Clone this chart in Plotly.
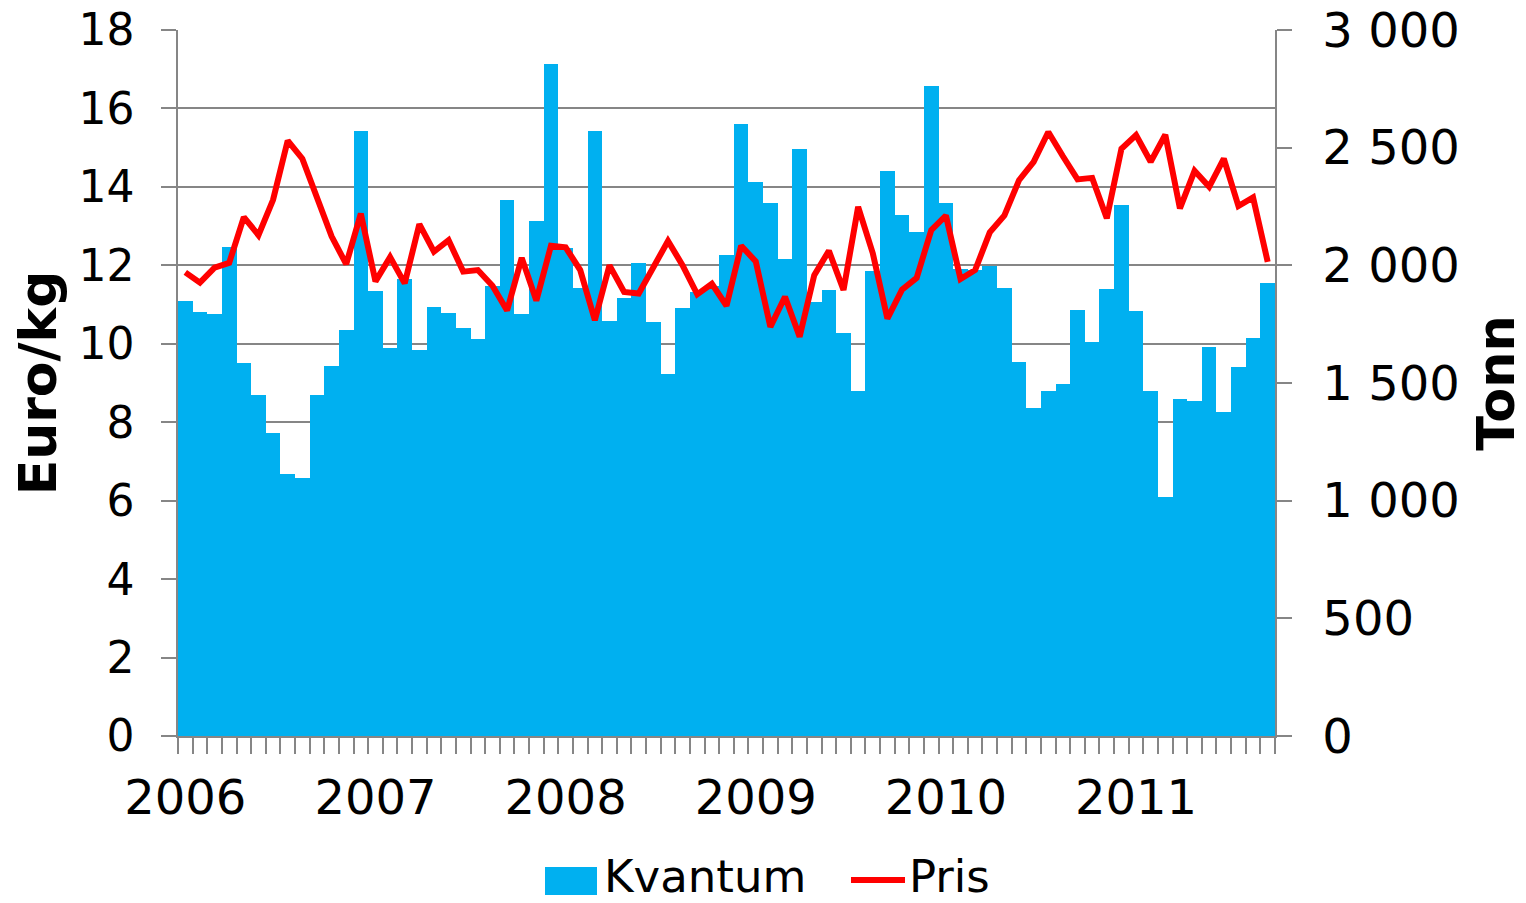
import plotly.graph_objects as go

# 4-week periods (13 per year), 2006 P1 .. 2011 P10
years = ["2006", "2007", "2008", "2009", "2010", "2011"]
periods_per_year = 13

kvantum = [1850, 1802, 1794, 2080, 1584, 1448, 1289, 1113, 1095, 1448, 1573, 1726, 2571,
           1891, 1650, 1944, 1639, 1825, 1796, 1734, 1689, 1911, 2276, 1792, 2190, 2854,
           2072, 1903, 2571, 1763, 1862, 2010, 1759, 1540, 1819, 1887, 1911, 2045, 2602,
           2353, 2266, 2025, 2495, 1845, 1895, 1713, 1466, 1975, 2402, 2213, 2140, 2763,
           2266, 1986, 1980, 1996, 1905, 1588, 1392, 1464, 1497, 1810, 1676, 1901, 2258,
           1808, 1464, 1017, 1431, 1425, 1654, 1377, 1567, 1693, 1926]

pris = [11.82, 11.56, 11.94, 12.06, 13.23, 12.77, 13.67, 15.18, 14.72, 13.73, 12.74, 12.03, 13.32,
        11.59, 12.21, 11.54, 13.05, 12.35, 12.64, 11.84, 11.88, 11.48, 10.85, 12.19, 11.10, 12.50,
        12.46, 11.88, 10.60, 12.00, 11.32, 11.28, 11.96, 12.62, 12.00, 11.26, 11.53, 10.97, 12.50,
        12.10, 10.43, 11.20, 10.18, 11.75, 12.37, 11.37, 13.49, 12.31, 10.64, 11.38, 11.68, 12.90,
        13.27, 11.65, 11.88, 12.84, 13.27, 14.17, 14.64, 15.40, 14.78, 14.19, 14.23, 13.20, 14.97,
        15.32, 14.64, 15.33, 13.45, 14.41, 14.00, 14.72, 13.51, 13.73, 12.09]

n = len(kvantum)
x = list(range(n))
year_ticks = [i * periods_per_year for i in range(len(years))]

BAR = "#00B0F0"
LINE = "#FF0000"
AX = "#868686"
FONT = "DejaVu Sans"

fig = go.Figure()
fig.add_trace(go.Bar(x=x, y=kvantum, name="Kvantum", marker=dict(color=BAR, line=dict(width=0)),
                     yaxis="y", showlegend=False))
fig.add_trace(go.Scatter(x=x, y=pris, name="Pris", mode="lines",
                         line=dict(color=LINE, width=6), yaxis="y2", showlegend=False))

W, H = 1526, 903
L, R, T, B = 178, 251, 30, 167
pw, ph = W - L - R, H - T - B

def px(xp):
    return (xp - L) / pw

def py(yp):
    return (H - B - yp) / ph

fig.update_layout(
    width=W, height=H,
    margin=dict(l=L, r=R, t=T, b=B, autoexpand=False),
    paper_bgcolor="white", plot_bgcolor="white",
    font=dict(family=FONT, color="black"),
    separators=", ",
    bargap=0,
    xaxis=dict(
        range=[-0.5, n - 0.5], tickmode="array", tickvals=year_ticks, ticktext=years,
        ticks="", showgrid=False, zeroline=False,
        showline=True, linecolor=AX, linewidth=1.5,
        tickfont=dict(size=48, family=FONT), ticklabelstandoff=19,
        minor=dict(tickmode="linear", tick0=-0.5, dtick=1, ticks="outside",
                   ticklen=16, tickcolor=AX, tickwidth=1.5, showgrid=False),
    ),
    yaxis=dict(
        range=[0, 3000], dtick=500, tickformat=",d", side="right",
        showgrid=False, zeroline=False, showline=True, linecolor=AX, linewidth=1.5,
        ticks="outside", ticklen=15, tickcolor=AX, tickwidth=1.5,
        tickfont=dict(size=48, family=FONT), ticklabelstandoff=21,
        title=dict(text="<b>Tonn</b>", font=dict(size=51, family=FONT), standoff=22),
    ),
    yaxis2=dict(
        range=[0, 18], dtick=2, side="left", overlaying="y",
        showgrid=True, gridcolor=AX, gridwidth=1.5, zeroline=False,
        showline=True, linecolor=AX, linewidth=1.5,
        ticks="outside", ticklen=15, tickcolor=AX, tickwidth=1.5,
        tickfont=dict(size=44, family=FONT), ticklabelstandoff=18,
        title=dict(text="<b>Euro/kg</b>", font=dict(size=52, family=FONT), standoff=5),
    ),
    shapes=[
        dict(type="rect", xref="paper", yref="paper", x0=px(545), x1=px(597), y0=py(895), y1=py(867),
             fillcolor=BAR, line=dict(width=0)),
        dict(type="line", xref="paper", yref="paper", x0=px(851), x1=px(905), y0=py(880), y1=py(880),
             line=dict(color=LINE, width=6)),
    ],
    annotations=[
        dict(text="Kvantum", xref="paper", yref="paper", x=px(603), y=py(876), xanchor="left",
             yanchor="middle", borderpad=0, showarrow=False,
             font=dict(size=45, family=FONT, color="black")),
        dict(text="Pris", xref="paper", yref="paper", x=px(908), y=py(876), xanchor="left",
             yanchor="middle", borderpad=0, showarrow=False,
             font=dict(size=45, family=FONT, color="black")),
    ],
)

fig.write_html("out.html", config={"displayModeBar": False},
               post_script="document.body.style.margin='0px';document.body.style.overflow='hidden';")
